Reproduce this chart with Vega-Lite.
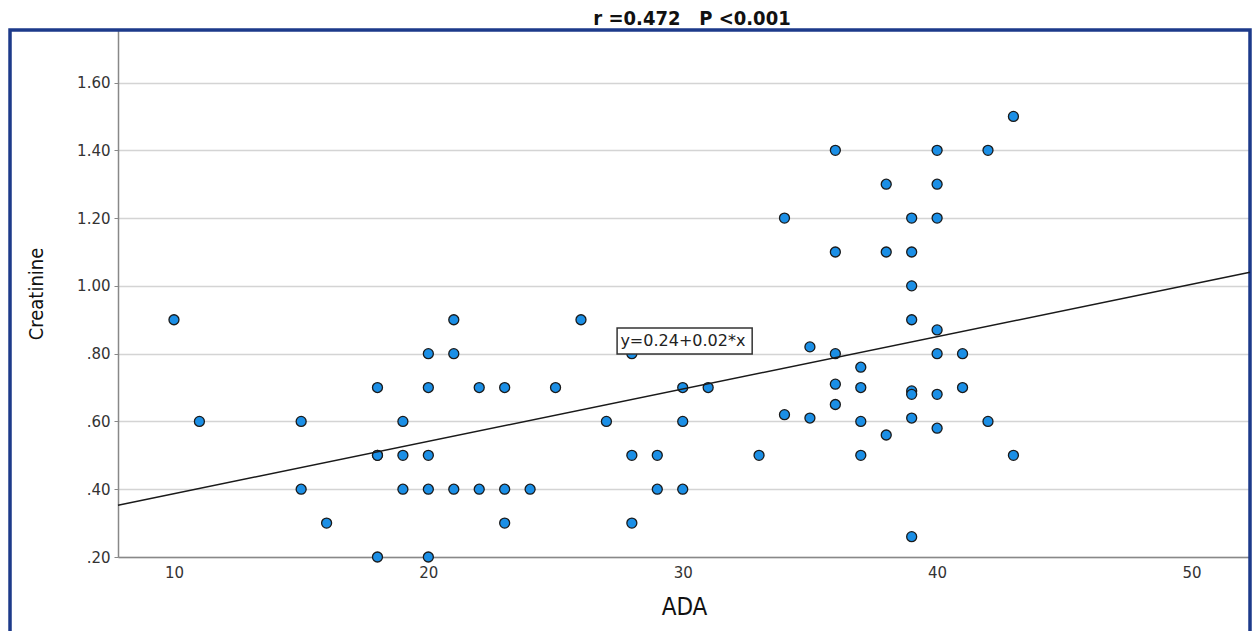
{
  "$schema": "https://vega.github.io/schema/vega-lite/v6.json",
  "width": 1132,
  "height": 527,
  "autosize": {"type": "none"},
  "padding": {"left": 118, "top": 30, "right": 3, "bottom": 74},
  "background": "white",
  "config": {"view": {"stroke": null}, "font": "DejaVu Sans"},
  "title": {
    "text": "r =0.472\u00a0\u00a0\u00a0P <0.001",
    "font": "DejaVu Sans Condensed, Liberation Sans Narrow, Liberation Sans",
    "fontSize": 20,
    "fontWeight": "bold",
    "color": "#111111",
    "anchor": "middle",
    "frame": "group",
    "offset": -1,
    "dx": 8
  },
  "datasets": {
    "points": [
      {"ADA": 10, "Creatinine": 0.90}, {"ADA": 11, "Creatinine": 0.60},
      {"ADA": 15, "Creatinine": 0.60}, {"ADA": 15, "Creatinine": 0.40},
      {"ADA": 16, "Creatinine": 0.30}, {"ADA": 18, "Creatinine": 0.70},
      {"ADA": 18, "Creatinine": 0.50}, {"ADA": 18, "Creatinine": 0.50},
      {"ADA": 18, "Creatinine": 0.20}, {"ADA": 19, "Creatinine": 0.60},
      {"ADA": 19, "Creatinine": 0.50}, {"ADA": 19, "Creatinine": 0.40},
      {"ADA": 20, "Creatinine": 0.80}, {"ADA": 20, "Creatinine": 0.70},
      {"ADA": 20, "Creatinine": 0.50}, {"ADA": 20, "Creatinine": 0.40},
      {"ADA": 20, "Creatinine": 0.20}, {"ADA": 21, "Creatinine": 0.90},
      {"ADA": 21, "Creatinine": 0.80}, {"ADA": 21, "Creatinine": 0.40},
      {"ADA": 22, "Creatinine": 0.70}, {"ADA": 22, "Creatinine": 0.40},
      {"ADA": 23, "Creatinine": 0.70}, {"ADA": 23, "Creatinine": 0.40},
      {"ADA": 23, "Creatinine": 0.30}, {"ADA": 24, "Creatinine": 0.40},
      {"ADA": 25, "Creatinine": 0.70}, {"ADA": 26, "Creatinine": 0.90},
      {"ADA": 27, "Creatinine": 0.60}, {"ADA": 28, "Creatinine": 0.80},
      {"ADA": 28, "Creatinine": 0.50}, {"ADA": 28, "Creatinine": 0.30},
      {"ADA": 29, "Creatinine": 0.50}, {"ADA": 29, "Creatinine": 0.40},
      {"ADA": 30, "Creatinine": 0.70}, {"ADA": 30, "Creatinine": 0.60},
      {"ADA": 30, "Creatinine": 0.40}, {"ADA": 31, "Creatinine": 0.70},
      {"ADA": 33, "Creatinine": 0.50}, {"ADA": 34, "Creatinine": 1.20},
      {"ADA": 34, "Creatinine": 0.62}, {"ADA": 35, "Creatinine": 0.82},
      {"ADA": 35, "Creatinine": 0.61}, {"ADA": 36, "Creatinine": 1.40},
      {"ADA": 36, "Creatinine": 1.10}, {"ADA": 36, "Creatinine": 0.80},
      {"ADA": 36, "Creatinine": 0.71}, {"ADA": 36, "Creatinine": 0.65},
      {"ADA": 37, "Creatinine": 0.76}, {"ADA": 37, "Creatinine": 0.70},
      {"ADA": 37, "Creatinine": 0.60}, {"ADA": 37, "Creatinine": 0.50},
      {"ADA": 38, "Creatinine": 1.30}, {"ADA": 38, "Creatinine": 1.10},
      {"ADA": 38, "Creatinine": 0.56}, {"ADA": 39, "Creatinine": 1.20},
      {"ADA": 39, "Creatinine": 1.10}, {"ADA": 39, "Creatinine": 1.00},
      {"ADA": 39, "Creatinine": 0.90}, {"ADA": 39, "Creatinine": 0.69},
      {"ADA": 39, "Creatinine": 0.68}, {"ADA": 39, "Creatinine": 0.61},
      {"ADA": 39, "Creatinine": 0.26}, {"ADA": 40, "Creatinine": 1.40},
      {"ADA": 40, "Creatinine": 1.30}, {"ADA": 40, "Creatinine": 1.20},
      {"ADA": 40, "Creatinine": 0.87}, {"ADA": 40, "Creatinine": 0.80},
      {"ADA": 40, "Creatinine": 0.68}, {"ADA": 40, "Creatinine": 0.58},
      {"ADA": 41, "Creatinine": 0.80}, {"ADA": 41, "Creatinine": 0.70},
      {"ADA": 42, "Creatinine": 1.40}, {"ADA": 42, "Creatinine": 0.60},
      {"ADA": 43, "Creatinine": 1.50}, {"ADA": 43, "Creatinine": 0.50}
    ],
    "fit": [
      {"ADA": 7.8, "Creatinine": 0.353},
      {"ADA": 52.3, "Creatinine": 1.040}
    ],
    "label": [
      {"text": "y=0.24+0.02*x"}
    ]
  },
  "layer": [
    {
      "data": {"name": "label"},
      "mark": {"type": "rect", "fill": null, "stroke": "#1d3a8a", "strokeWidth": 3.5, "clip": false},
      "encoding": {
        "x": {"datum": 3.555, "type": "quantitative"},
        "x2": {"datum": 52.3},
        "y": {"datum": 1.755, "type": "quantitative"},
        "y2": {"datum": -0.03}
      }
    },
    {
      "data": {"name": "points"},
      "mark": {"type": "circle", "size": 100, "fill": "#1b8fe6", "fillOpacity": 1, "stroke": "#1a1a1a", "strokeWidth": 1.3},
      "encoding": {
        "x": {
          "field": "ADA",
          "type": "quantitative",
          "scale": {"domain": [7.8, 52.3], "nice": false, "zero": false},
          "axis": {
            "values": [10, 20, 30, 40, 50],
            "grid": false,
            "ticks": false,
            "domainColor": "#888888",
            "domainWidth": 1.5,
            "labelFont": "DejaVu Sans",
            "labelFontSize": 15,
            "labelColor": "#333333",
            "labelPadding": 8,
            "labelFlush": false,
            "title": "ADA",
            "titleFont": "DejaVu Sans Condensed, Liberation Sans Narrow, Liberation Sans",
            "titleFontSize": 24,
            "titleFontWeight": "normal",
            "titleColor": "#111111",
            "titlePadding": 15
          }
        },
        "y": {
          "field": "Creatinine",
          "type": "quantitative",
          "scale": {"domain": [0.2, 1.755], "nice": false, "zero": false},
          "axis": {
            "values": [0.2, 0.4, 0.6, 0.8, 1.0, 1.2, 1.4, 1.6],
            "labelExpr": "datum.value < 1 ? slice(format(datum.value, '.2f'), 1) : format(datum.value, '.2f')",
            "grid": true,
            "gridColor": "#d4d4d4",
            "gridWidth": 1.5,
            "domainColor": "#888888",
            "domainWidth": 1.5,
            "tickColor": "#888888",
            "tickSize": 4,
            "labelFont": "DejaVu Sans",
            "labelFontSize": 15,
            "labelColor": "#333333",
            "labelPadding": 4,
            "labelFlush": false,
            "title": "Creatinine",
            "titleFont": "DejaVu Sans Condensed, Liberation Sans Narrow, Liberation Sans",
            "titleFontSize": 20,
            "titleFontWeight": "normal",
            "titleColor": "#111111",
            "titlePadding": 30
          }
        }
      }
    },
    {
      "data": {"name": "fit"},
      "mark": {"type": "line", "color": "#1a1a1a", "strokeWidth": 1.5},
      "encoding": {
        "x": {"field": "ADA", "type": "quantitative"},
        "y": {"field": "Creatinine", "type": "quantitative"}
      }
    },
    {
      "data": {"name": "label"},
      "mark": {"type": "rect", "fill": "white", "stroke": "#333333", "strokeWidth": 1.5},
      "encoding": {
        "x": {"datum": 27.42, "type": "quantitative"},
        "x2": {"datum": 32.73},
        "y": {"datum": 0.876, "type": "quantitative"},
        "y2": {"datum": 0.799}
      }
    },
    {
      "data": {"name": "label"},
      "mark": {"type": "text", "align": "left", "baseline": "middle", "font": "DejaVu Sans", "fontSize": 16, "color": "#222222"},
      "encoding": {
        "x": {"datum": 27.55, "type": "quantitative"},
        "y": {"datum": 0.838, "type": "quantitative"},
        "text": {"field": "text"}
      }
    }
  ]
}
